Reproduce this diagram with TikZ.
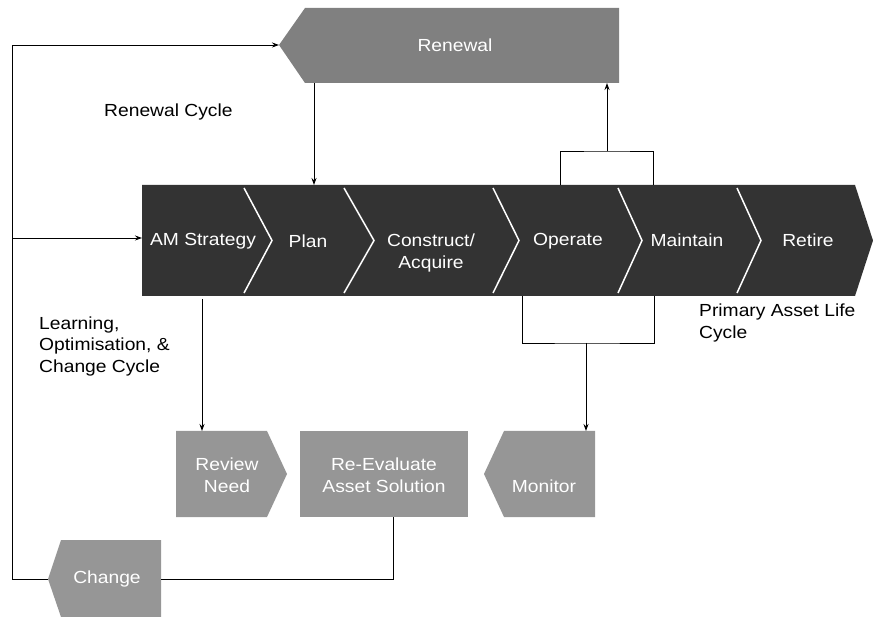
\documentclass[tikz,border=0pt]{standalone}
\usepackage{fontspec}
\setmainfont{Liberation Sans}[FakeStretch=1.1]
\usetikzlibrary{arrows.meta}
\definecolor{bardark}{RGB}{51,51,51}
\definecolor{renewgray}{RGB}{128,128,128}
\definecolor{boxgray}{RGB}{150,150,150}
\tikzset{
  boxtext/.style={font=\fontsize{17.5}{21.5}\selectfont, text=white, align=center, inner sep=0pt},
  cycletext/.style={font=\fontsize{17.5}{21.5}\selectfont, align=left, anchor=west, inner sep=0pt},
  conn/.style={draw=black, line width=0.9pt},
}
\begin{document}
\begin{tikzpicture}[x=1pt, y=-1pt, >={Stealth[length=7pt,width=5pt]}]
    \useasboundingbox (0,0) rectangle (873,617);
    % renewal box
    \fill[renewgray] (305,8) -- (619,8) -- (619,83) -- (305,83) -- (279,45) -- cycle;
    \node[boxtext] (renewal) at (455,45) {Renewal};
    % primary life cycle bar
    \fill[bardark] (142,185) -- (855,185) -- (873,240.5) -- (855,296) -- (142,296) -- cycle;
    \foreach \a/\t in {244/272, 344/374, 493/519, 618/642, 737/761}
        \draw[white, line width=1.5pt] (\a,188) -- (\t,240.5) -- (\a,293);
    \node[boxtext] (strategy) at (203,241) {AM Strategy};
    \node[boxtext] (plan) at (308,241) {Plan};
    \node[boxtext] (construct) at (431,253) {Construct/\\Acquire};
    \node[boxtext] (operate) at (568,241) {Operate};
    \node[boxtext] (maintain) at (687,240) {Maintain};
    \node[boxtext] (retire) at (808,240) {Retire};
    % learning boxes
    \fill[boxgray] (176,431) -- (267,431) -- (287,474) -- (267,517) -- (176,517) -- cycle;
    \node[boxtext] (review) at (227,475) {Review\\Need};
    \fill[boxgray] (300,431) rectangle (468,517);
    \node[boxtext] (reeval) at (384,475) {Re-Evaluate\\Asset Solution};
    \fill[boxgray] (504,431) -- (595,431) -- (595,517) -- (504,517) -- (484,474) -- cycle;
    \node[boxtext] (monitor) at (544,486) {Monitor};
    \fill[boxgray] (61,540) -- (161,540) -- (161,617) -- (61,617) -- (48,579) -- cycle;
    \node[boxtext] (change) at (107,579) {Change};
    % cycle labels
    \node[cycletext] (renewalcycle) at (104,112) {Renewal Cycle};
    \node[cycletext] (learning) at (39,346) {Learning,\\Optimisation, \&\\Change Cycle};
    \node[cycletext] (primary) at (699,323) {Primary Asset Life\\Cycle};
    % connector ends
    \coordinate (rn tip) at (279,45);
    \coordinate (ch tip) at (48,579);
    \coordinate (loop corner) at (12,579);
    \coordinate (split) at (12,238);
    \coordinate (bar west) at (142,238);
    \coordinate (rn out) at (314,83);
    \coordinate (bar in) at (314,185);
    \coordinate (op top) at (560,185);
    \coordinate (mt top) at (653,185);
    \coordinate (up joint) at (607,151);
    \coordinate (rn in) at (607,83);
    \coordinate (op bot) at (522,296);
    \coordinate (mt bot) at (654,296);
    \coordinate (down joint) at (586,343);
    \coordinate (mon in) at (586,431);
    \coordinate (st out) at (202,299);
    \coordinate (rv in) at (202,431);
    \coordinate (re out) at (393,517);
    \coordinate (ch in) at (161,579);
    % connectors
    \draw[conn,->] (ch tip) -- (loop corner) |- (rn tip);
    \draw[conn,->] (split) -- (bar west);
    \draw[conn,->] (rn out) -- (bar in);
    \draw[conn] (op top) |- (up joint) -| (mt top);
    \draw[conn,->] (up joint) -- (rn in);
    \draw[conn] (op bot) |- (down joint) -| (mt bot);
    \draw[conn,->] (down joint) -- (mon in);
    \draw[conn,->] (st out) -- (rv in);
    \draw[conn] (re out) |- (ch in);
\end{tikzpicture}
\end{document}
